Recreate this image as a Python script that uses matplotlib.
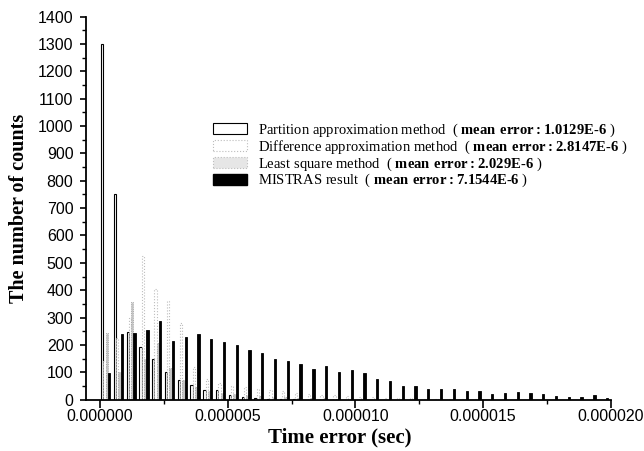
import numpy as np
import matplotlib
matplotlib.use('Agg')
import matplotlib.pyplot as plt
from matplotlib.patches import Patch
from matplotlib.ticker import MultipleLocator, FuncFormatter

plt.rcParams['mathtext.fontset'] = 'custom'
plt.rcParams['mathtext.rm'] = 'Liberation Serif'
plt.rcParams['mathtext.bf'] = 'Liberation Serif:bold'

# histogram bins of 0.5 us, 40 bins from 0 to 20 us
bin_start = np.arange(40) * 0.5e-6

partition = [1300, 750, 248, 192, 150, 100, 73, 52, 34, 34, 18, 8, 5, 3, 2, 1] + [0] * 24
difference = [140, 225, 300, 525, 405, 362, 280, 120, 75, 60, 50, 45, 40, 35, 30, 25,
              20, 18, 15, 12, 10, 8, 6, 5, 4, 3, 2, 2, 1, 1] + [0] * 10
least = [245, 100, 355, 150, 206, 116, 72, 45, 30, 25, 20, 15, 12, 10, 8, 6,
         5, 4, 3, 2] + [0] * 20
mistras = [97, 239, 243, 253, 288, 215, 230, 239, 223, 209, 198, 183, 172, 149, 140, 129,
           113, 124, 101, 109, 96, 74, 68, 50, 50, 40, 39, 40, 32, 32,
           22, 23, 27, 24, 20, 12, 10, 10, 15, 7]

labels = ['Partition approximation method  ( $\\mathbf{mean\\ error:1.0129E}$-$\\mathbf{6}$ )',
          'Difference approximation method  ( $\\mathbf{mean\\ error:2.8147E}$-$\\mathbf{6}$ )',
          'Least square method  ( $\\mathbf{mean\\ error:2.029E}$-$\\mathbf{6}$ )',
          'MISTRAS result  ( $\\mathbf{mean\\ error:7.1544E}$-$\\mathbf{6}$ )']

fig = plt.figure(figsize=(6.44, 4.51), dpi=100)
ax = fig.add_axes([0.1335, 0.114, 0.815, 0.849])

w = 0.09e-6
ax.bar(bin_start + 0.04e-6, partition, width=w, align='edge', facecolor='white',
       edgecolor='black', linewidth=0.8)
ax.bar(bin_start + 0.13e-6, difference, width=w, align='edge', facecolor='white',
       edgecolor='#bdbdbd', linewidth=0.8, linestyle=':')
ax.bar(bin_start + 0.22e-6, least, width=w, align='edge', facecolor='#c4c4c4',
       edgecolor='#9a9a9a', linewidth=0.6, linestyle=':')
ax.bar(bin_start + 0.31e-6, mistras, width=w, align='edge', facecolor='black',
       edgecolor='black', linewidth=0.6)

ax.set_xlim(-0.55e-6, 2.0e-5)
ax.set_ylim(0, 1400)
ax.spines['top'].set_visible(False)
ax.spines['right'].set_visible(False)
ax.spines['left'].set_linewidth(1.3)
ax.spines['bottom'].set_linewidth(1.3)

ax.xaxis.set_major_locator(MultipleLocator(5e-6))
ax.xaxis.set_minor_locator(MultipleLocator(2.5e-6))
ax.xaxis.set_major_formatter(FuncFormatter(lambda v, p: '%.6f' % v))
ax.yaxis.set_major_locator(MultipleLocator(100))
ax.yaxis.set_minor_locator(MultipleLocator(50))
ax.tick_params(axis='both', which='major', direction='out', width=1.2, labelsize=11.5,
               labelfontfamily='Liberation Sans')
ax.tick_params(axis='x', which='major', length=6, pad=0.5)
ax.tick_params(axis='y', which='major', length=4, pad=5)
ax.tick_params(axis='both', which='minor', direction='out', width=1.0, length=3)

ax.set_xlabel('Time error (sec)', fontfamily='Liberation Serif', fontweight='bold', fontsize=15)
ax.set_ylabel('The number of counts', fontfamily='Liberation Serif', fontweight='bold', fontsize=14.5)
ax.xaxis.set_label_coords(0.484, -0.072)
ax.yaxis.set_label_coords(-0.108, 0.5)

handles = [Patch(facecolor='white', edgecolor='black', linewidth=0.8),
           Patch(facecolor='white', edgecolor='#bdbdbd', linewidth=0.8, linestyle=':'),
           Patch(facecolor='#e6e6e6', edgecolor='#bdbdbd', linewidth=0.8, linestyle=':'),
           Patch(facecolor='black', edgecolor='black')]
ax.legend(handles, labels, loc='upper left', bbox_to_anchor=(0.331, 0.73),
          bbox_transform=fig.transFigure, frameon=False, borderpad=0, borderaxespad=0,
          handlelength=2.3, handleheight=0.8, handletextpad=0.8, labelspacing=-0.04,
          prop={'family': 'Liberation Serif', 'size': 10.5})

fig.savefig('out.png', dpi=100)
